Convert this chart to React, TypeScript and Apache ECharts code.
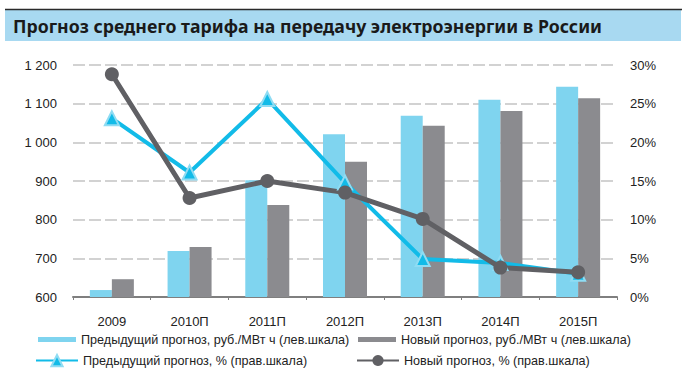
import React, { useEffect, useRef } from "react";
import * as echarts from "echarts";

const categories = ["2009", "2010П", "2011П", "2012П", "2013П", "2014П", "2015П"];
const prevTariff = [618, 719, 902, 1021, 1069, 1110, 1144];
const newTariff = [646, 729, 838, 950, 1043, 1081, 1114];
const prevGrowth = [23.1, 16.1, 25.6, 14.8, 4.9, 4.4, 3.0];
const newGrowth = [28.8, 12.8, 15.0, 13.5, 10.1, 3.8, 3.2];
const leftTicks = { min: 600, max: 1200, interval: 100 };
const rightTicks = { min: 0, max: 30, interval: 5 };
const title = "Прогноз среднего тарифа на передачу электроэнергии в России";
const names = [
  "Предыдущий прогноз, руб./МВт ч (лев.шкала)",
  "Новый прогноз, руб./МВт ч (лев.шкала)",
  "Предыдущий прогноз, % (прав.шкала)",
  "Новый прогноз, % (прав.шкала)",
];

const LIGHT_BAR = "#7fd4ef";
const DARK_BAR = "#8b8b8f";
const LIGHT_LINE = "#12bbe8";
const DARK_LINE = "#606064";
const FONT = "Liberation Sans";

export default function App() {
  const ref = useRef<HTMLDivElement>(null);
  useEffect(() => {
    if (!ref.current) return;
    const chart = echarts.init(ref.current, null, { renderer: "svg" });
    const fmtThousands = (v: number) =>
      String(v).replace(/\B(?=(\d{3})+(?!\d))/g, " ");
    const gridLine = {
      show: true,
      lineStyle: { color: "#c4c4c4", width: 1.5, type: [12, 4] as any },
    };
    const legendText = { fontSize: 12.6, color: "#222", fontFamily: FONT };
    const barLegend = (name: string, left: number) => ({
      left,
      top: 333,
      padding: 0,
      itemWidth: 38,
      itemHeight: 5,
      textStyle: legendText,
      data: [{ name, icon: "rect" }],
    });
    const lineLegend = (name: string, left: number) => ({
      left,
      top: 354,
      padding: 0,
      itemWidth: 42,
      itemHeight: 14,
      textStyle: legendText,
      data: [name],
    });
    chart.setOption({
      animation: false,
      backgroundColor: "#ffffff",
      textStyle: { fontFamily: FONT },
      graphic: [
        { type: "rect", shape: { x: 5, y: 10, width: 676, height: 31 }, style: { fill: "#a8d9f1" } },
        { type: "line", shape: { x1: 5, y1: 9.5, x2: 682, y2: 9.5 }, style: { stroke: "#2a2a2a", lineWidth: 1.5 } },
        {
          type: "text",
          x: 13,
          y: 26,
          style: {
            text: title,
            font: "bold 17.7px 'Noto Sans'",
            fill: "#1a1a1a",
            textVerticalAlign: "middle",
          },
        },
      ],
      grid: { left: 73, right: 72, top: 65, bottom: 79 },
      legend: [
        barLegend(names[0], 38),
        barLegend(names[1], 358),
        lineLegend(names[2], 35),
        lineLegend(names[3], 356),
      ],
      xAxis: {
        type: "category",
        data: categories,
        axisLine: { lineStyle: { color: "#7f7f7f", width: 2 } },
        axisTick: { show: true, length: 3, lineStyle: { color: "#7f7f7f" } },
        axisLabel: { color: "#222", fontSize: 13, margin: 18, fontFamily: FONT },
      },
      yAxis: [
        {
          type: "value",
          min: leftTicks.min,
          max: leftTicks.max,
          interval: leftTicks.interval,
          axisLine: { show: false },
          axisTick: { show: false },
          splitLine: gridLine,
          axisLabel: { color: "#222", fontSize: 13, margin: 16, fontFamily: FONT, formatter: fmtThousands },
        },
        {
          type: "value",
          min: rightTicks.min,
          max: rightTicks.max,
          interval: rightTicks.interval,
          axisLine: { show: false },
          axisTick: { show: false },
          splitLine: { show: false },
          axisLabel: { color: "#222", fontSize: 13, margin: 13, fontFamily: FONT, formatter: "{value}%" },
        },
      ],
      series: [
        {
          name: names[0],
          type: "bar",
          data: prevTariff,
          barWidth: 22,
          barGap: "0%",
          itemStyle: { color: LIGHT_BAR },
        },
        {
          name: names[1],
          type: "bar",
          data: newTariff,
          barWidth: 22,
          barGap: "0%",
          itemStyle: { color: DARK_BAR },
        },
        {
          name: names[2],
          type: "line",
          yAxisIndex: 1,
          data: prevGrowth,
          symbol: "triangle",
          symbolSize: 14,
          lineStyle: { color: LIGHT_LINE, width: 4 },
          itemStyle: { color: LIGHT_LINE, borderColor: "#8fdcf3", borderWidth: 2 },
        },
        {
          name: names[3],
          type: "line",
          yAxisIndex: 1,
          data: newGrowth,
          symbol: "circle",
          symbolSize: 14,
          lineStyle: { color: DARK_LINE, width: 5 },
          itemStyle: { color: DARK_LINE },
        },
      ],
    });
    return () => chart.dispose();
  }, []);
  return (
    <div
      ref={ref}
      style={{ position: "absolute", left: 0, top: 0, width: 689, height: 376 }}
    />
  );
}
